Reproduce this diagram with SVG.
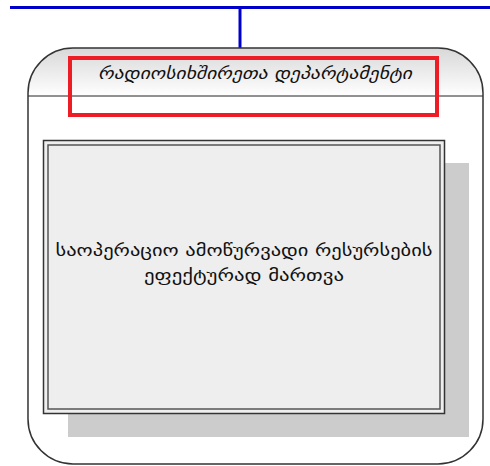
<svg xmlns="http://www.w3.org/2000/svg" width="490" height="466" viewBox="0 0 490 466">
<defs>
<style>
.conn{stroke:#0000cc;stroke-width:3;fill:none}
.txt{font-family:"DejaVu Sans","Noto Sans",sans-serif;fill:#111;text-anchor:middle}
</style>
<linearGradient id="hdr" x1="0" y1="0" x2="0" y2="1">
<stop offset="0" stop-color="#d8d8d8"/>
<stop offset="1" stop-color="#ffffff"/>
</linearGradient>
<clipPath id="outerClip"><rect x="28" y="48" width="455" height="416" rx="45" ry="45"/></clipPath>
</defs>
<rect width="490" height="466" fill="#ffffff"/>
<g id="connectors">
<line class="conn" x1="10" y1="7.5" x2="490" y2="7.5"/>
<line class="conn" x1="240" y1="7.5" x2="240" y2="49"/>
</g>
<g id="department">
<rect x="28" y="48" width="455" height="416" rx="45" ry="45" fill="#ffffff"/>
<rect x="28" y="48" width="455" height="48" fill="url(#hdr)" clip-path="url(#outerClip)"/>
<line x1="28" y1="96" x2="483" y2="96" stroke="#222" stroke-width="1"/>
<rect x="28" y="48" width="455" height="416" rx="45" ry="45" fill="none" stroke="#333" stroke-width="1.5"/>
<text class="txt" x="255" y="79" font-size="17" font-style="italic" textLength="314" lengthAdjust="spacingAndGlyphs">რადიოსიხშირეთა  დეპარტამენტი</text>
<rect x="70" y="58" width="367" height="57" fill="none" stroke="#ee1c24" stroke-width="4"/>
</g>
<g id="task">
<rect x="68" y="163" width="401" height="274" fill="#cccccc"/>
<rect x="43.5" y="140.5" width="401" height="273" fill="#eeeeee" stroke="#333" stroke-width="1.5"/>
<rect x="48" y="145" width="392" height="264" fill="none" stroke="#555" stroke-width="1.5"/>
<text class="txt" x="244" y="256" font-size="17" textLength="377" lengthAdjust="spacingAndGlyphs">საოპერაციო  ამოწურვადი  რესურსების</text>
<text class="txt" x="244" y="281" font-size="17" textLength="200" lengthAdjust="spacingAndGlyphs">ეფექტურად  მართვა</text>
</g>
</svg>
